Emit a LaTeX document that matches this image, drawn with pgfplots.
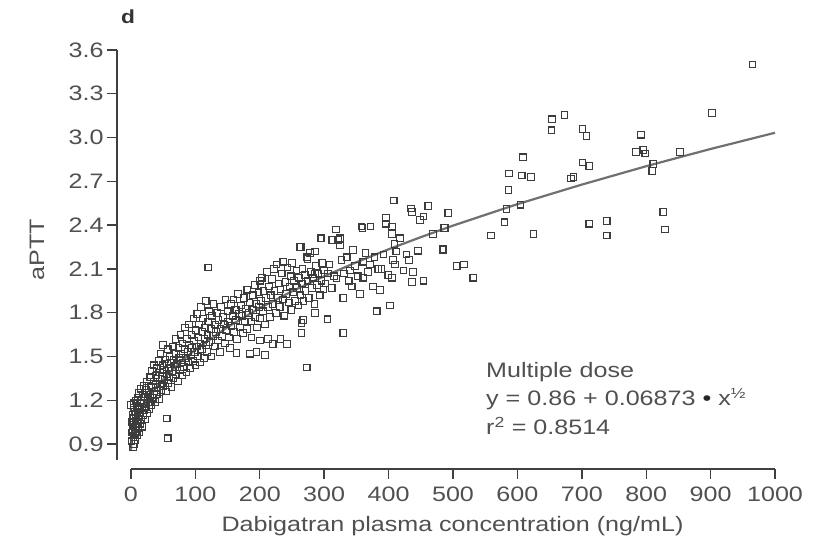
\documentclass[border=0pt]{standalone}
\usepackage{pgfplots}
\pgfplotsset{compat=1.18}
\usepackage{fontspec}
\setmainfont{Liberation Sans}[FakeStretch=1.2]
\definecolor{txt}{HTML}{505050}
\definecolor{axc}{HTML}{404040}
\definecolor{mk}{HTML}{3c3c3c}
\definecolor{fitc}{HTML}{707070}
\begin{document}
\begin{tikzpicture}[x=1bp,y=1bp]
\path[use as bounding box] (-117,-78) rectangle (700,469);
\begin{axis}[
 scale only axis, width=658bp, height=419bp,
 xmin=-21.7, xmax=1000, ymin=0.73, ymax=3.6,
 axis lines*=left, axis line style={draw=none},
 tick align=outside, major tick length=10bp,
 tick style={axc, line width=1.4bp},
 xtick={0,100,200,300,400,500,600,700,800,900,1000},
 ytick={0.9,1.2,1.5,1.8,2.1,2.4,2.7,3.0,3.3,3.6},
 clip=false,
 font=\fontsize{21}{25}\selectfont,
 ticklabel style={txt},
 /pgf/number format/assume math mode=true,
 xticklabel style={yshift=-4bp, /pgf/number format/set thousands separator={}},
 yticklabel style={/pgf/number format/fixed, /pgf/number format/fixed zerofill, /pgf/number format/precision=1},
]
\addplot[only marks, mark=square, mark size=3.3bp, mark options={draw=mk, line width=1.1bp}] coordinates {
(1,0.92)(2,0.98)(2,1.05)(3,0.88)(3,1.00)(3,1.10)(4,0.95)(4,1.03)(4,1.15)(5,0.90)(5,1.08)(5,1.18)(6,0.97)(6,1.02)(6,1.12)(7,0.93)(7,1.06)(7,1.20)(8,0.99)(8,1.10)(9,1.04)(9,1.16)(10,0.96)(10,1.12)(10,1.22)(11,1.01)(11,1.07)(12,1.14)(12,1.25)(13,0.98)(13,1.09)(14,1.18)(14,1.04)(15,1.12)(15,1.28)(16,1.07)(16,1.20)(17,1.15)(18,1.02)(18,1.24)(19,1.10)(20,1.18)(20,1.30)(21,1.13)(22,1.07)(22,1.22)(23,1.27)(24,1.16)(25,1.11)(25,1.33)(26,1.21)(27,1.25)(28,1.14)(28,1.30)(29,1.19)(30,1.36)(30,1.24)(0,1.17)
(32,1.17)(32,1.29)(33,1.40)(34,1.22)(35,1.33)(36,1.26)(36,1.44)(37,1.19)(38,1.31)(39,1.37)(40,1.24)(40,1.42)(41,1.29)(42,1.35)(43,1.47)(44,1.21)(45,1.31)(45,1.39)(46,1.52)(47,1.27)(48,1.36)(49,1.44)(50,1.30)(50,1.58)(51,1.41)(52,1.34)(53,1.48)(54,1.26)(55,1.38)(56,1.45)(57,1.55)(58,1.32)(59,1.42)(60,1.36)(60,1.50)(62,1.46)(63,1.29)(64,1.40)(65,1.57)(66,1.35)(67,1.48)(68,1.43)(69,1.62)(70,1.38)(70,1.52)(72,1.45)(73,1.33)(74,1.56)(75,1.49)(76,1.41)(77,1.65)(78,1.52)(79,1.37)(80,1.46)(80,1.59)(82,1.43)(83,1.55)(84,1.70)(85,1.49)(86,1.39)(87,1.62)(88,1.53)(89,1.46)(90,1.58)(90,1.72)(92,1.42)(93,1.51)(94,1.65)(95,1.56)(96,1.47)(97,1.76)(98,1.61)(99,1.53)(100,1.44)(100,1.68)(55.4,1.076)(57,0.94)
(102,1.57)(103,1.79)(104,1.50)(105,1.63)(106,1.72)(107,1.46)(108,1.59)(109,1.84)(110,1.55)(111,1.67)(112,1.76)(113,1.49)(114,1.62)(115,1.70)(116,1.88)(117,1.58)(118,1.53)(119,1.65)(120,1.74)(121,1.81)(122,1.60)(124,1.69)(125,1.50)(126,1.78)(127,1.64)(128,1.86)(130,1.57)(131,1.72)(132,1.67)(134,1.80)(135,1.61)(136,1.75)(138,1.53)(139,1.69)(140,1.84)(141,1.64)(143,1.77)(144,1.72)(146,1.59)(147,1.89)(148,1.68)(150,1.81)(151,1.74)(152,1.63)(154,1.56)(155,1.86)(156,1.71)(158,1.78)(159,1.89)(160,1.67)(162,1.82)(163,1.75)(165,1.62)(166,1.93)(168,1.79)(169,1.70)(171,1.85)(172,1.78)(174,1.66)(175,1.90)(177,1.74)(178,1.83)(180,1.69)(181,1.96)(183,1.80)(184,1.87)(186,1.74)(187,1.63)(189,1.92)(190,1.82)(192,1.99)(193,1.77)(195,1.86)(196,1.70)(198,1.94)(199,1.84)(200,1.76)(200,2.02)
(164,1.525)(185,1.52)(195,1.53)(208,1.51)(200,1.61)(213,1.62)(220,1.585)(232,1.62)(242,1.585)(120,2.11)(164,1.82)(180,1.955)(192.5,1.99)
(202,1.88)(203,2.04)(205,1.81)(206,1.95)(208,1.72)(210,1.90)(211,2.08)(213,1.84)(214,1.98)(216,1.77)(217,1.92)(219,2.03)(220,1.86)(222,2.10)(223,1.95)(225,1.80)(226,2.13)(228,1.90)(229,2.00)(231,1.84)(232,1.96)(234,2.07)(236,1.89)(236.5,2.15)(238,1.78)(240,2.01)(241,1.93)(243,2.11)(245,1.87)(246,1.98)(248,2.05)(249,1.82)(250,2.14)(252,1.94)(253,2.02)(255,1.88)(257,2.09)(258,1.97)(260,1.85)(261,2.04)(263,1.92)(264,2.25)(266,2.00)(266.5,2.10)(268,1.88)(270,2.06)(271,1.95)(273,2.18)(274,2.02)(276,1.90)(278,2.21)(279,2.08)(281,1.97)(283,2.04)(285,1.86)(286,2.22)(287,2.12)(289,1.99)(291,2.07)(293,1.92)(294.5,2.31)(296,2.02)(297,2.14)(299,1.96)(300,2.09)
(272.8,1.425)(265,1.66)(265,1.73)(267.5,1.75)(262,2.25)(274,2.17)(285.7,1.80)(285.7,2.065)(296,2.31)
(302,2.00)(305,1.755)(306,2.07)(308,2.13)(311.6,1.97)(311.6,2.30)(314,2.30)(315,2.05)(318,2.37)(319,2.035)(322,2.30)(324.5,2.31)(324.5,2.26)(327,2.16)(329.7,1.90)(329.7,1.66)(331,2.07)(335,2.18)(338,2.02)(340,2.09)(342.7,1.98)(345,2.23)(348,2.12)(352,2.05)(355.6,1.93)(358,2.39)(359.7,2.38)(360.7,2.04)(360.7,2.15)(364,2.21)(368,2.08)(371,2.13)(372,2.39)(376,1.98)(378,2.18)(381.5,1.81)(384,2.10)(386.6,1.955)(389,2.10)(392,2.20)(396,2.45)(396,2.41)(399.5,2.06)
(402,1.85)(405,2.04)(405,2.39)(405,2.34)(407,2.16)(408,2.57)(409,2.27)(410,2.13)(412,2.22)(417.7,2.31)(423,2.09)(428,2.20)(432,2.16)(434.8,2.515)(436,2.49)(436,2.01)(438,2.08)(446,2.225)(448.8,2.435)(454,2.46)(454,2.02)(461.6,2.53)(469,2.34)(484,2.23)(485,2.235)(486,2.38)(487.6,2.38)(492.7,2.485)
(505.7,2.12)(517,2.13)(531.5,2.04)(559,2.33)(580,2.42)(583,2.51)(586,2.64)(587,2.755)(605,2.54)(606.7,2.74)(609,2.865)(621,2.73)(625,2.34)(653,3.05)(654,3.125)(673,3.155)(683,2.72)(687,2.73)(701,3.06)(701,2.83)(707.5,3.01)(711.7,2.805)(711.7,2.41)(738.6,2.43)(738.6,2.33)(784,2.90)(792,3.02)(795.5,2.915)(798.6,2.89)(809.5,2.77)(811,2.82)(826.6,2.49)(829,2.37)(852.5,2.90)(902,3.17)(965,3.50)
};
\addplot[fitc, line width=2.2bp] coordinates {
(0,0.86)(1,0.929)(2,0.957)(5,1.014)(10,1.077)(20,1.167)(40,1.295)(60,1.392)(80,1.475)(100,1.547)(150,1.702)(200,1.832)(250,1.947)(300,2.050)(350,2.146)(400,2.235)(450,2.318)(500,2.397)(600,2.544)(700,2.678)(800,2.804)(900,2.922)(1000,3.033)
};
\draw[axc, line width=2bp] (axis cs:0,0.73) -- (axis cs:1000,0.73);
\draw[axc, line width=2bp] (axis cs:-21.7,0.79) -- (axis cs:-21.7,3.6);
\end{axis}
\node[txt, rotate=90, font=\fontsize{21}{25}\selectfont] at (-80,219) {aPTT};
\node[txt, font=\fontsize{21}{25}\selectfont] at (335.5,-57) {Dabigatran plasma concentration (ng/mL)};
\node[black!80, font=\fontsize{19}{22}\selectfont\bfseries] at (11,452) {d};
\node[txt, anchor=base west, font=\fontsize{21}{25}\selectfont, inner sep=0pt] at (369,91) {Multiple dose};
\node[txt, anchor=base west, font=\fontsize{21}{25}\selectfont, inner sep=0pt] at (369,63) {y = 0.86 + 0.06873 {\color{black!85}\raisebox{0.5bp}{•}} x\textsuperscript{½}};
\node[txt, anchor=base west, font=\fontsize{21}{25}\selectfont, inner sep=0pt] at (369,34) {r\textsuperscript{2} = 0.8514};
\end{tikzpicture}
\end{document}
